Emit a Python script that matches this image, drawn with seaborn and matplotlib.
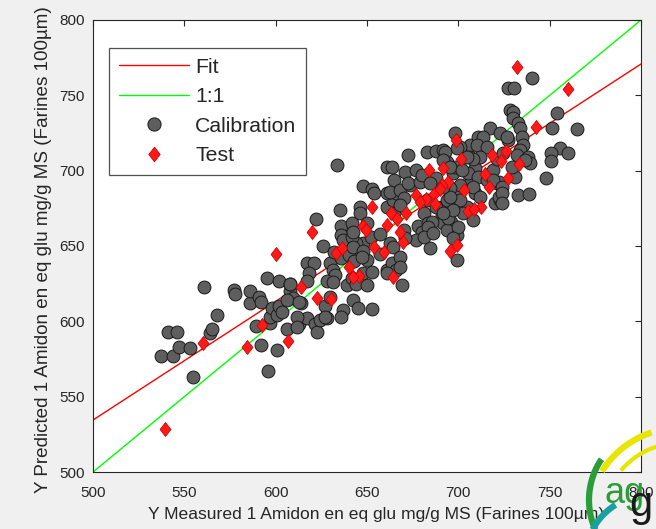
import numpy as np
import pandas as pd
import matplotlib
matplotlib.use("Agg")
import matplotlib.pyplot as plt
from matplotlib.lines import Line2D
import seaborn as sns

# ---------------- data ----------------
cal_x = [537, 544, 541, 546, 547, 553, 555, 561, 564, 565, 568, 577, 578, 586, 586, 589, 591, 592, 592, 595,
         596, 597, 597, 598, 601, 601, 602, 602, 603.5, 606, 608, 609.5, 608, 606, 613, 614, 617, 621.5, 622.5, 611.5,
         624, 628, 627, 611.5, 607.8, 613, 630, 627,
         617, 621, 618, 617, 622, 626, 630, 631.5, 632.5, 628, 631.5, 632, 633.4, 635, 636, 636, 637, 636, 640, 639,
         641.6, 644, 650, 648, 653, 650, 643, 648, 644, 652, 641.6, 641.6, 642.5, 646, 646, 650, 637, 636, 642.5, 645,
         652.5, 648, 653, 654, 657, 662.6, 661, 663.5, 666, 657, 661, 665, 664.4, 665, 666, 661, 660.7, 669, 664.4, 668,
         668, 642.5, 648, 647, 660.7,
         662.6, 668, 673.5, 670, 668, 681, 678, 680, 683.5, 677, 670, 671, 684.5, 691, 691.7, 696, 698, 693.6, 699, 694.5,
         697, 691, 699, 704.5, 709, 706.4, 699, 701, 720, 722.8, 721, 672.6, 682.6, 688, 698.2, 706.4, 711, 671, 677, 672.6,
         679, 688, 697, 663.5, 680, 693.6, 698, 706.4, 709, 705.4, 711, 715.5, 719, 722, 684.5, 695.4, 701, 691.8, 682.6, 688,
         693.6, 702.7, 708, 694.5, 700, 685.4, 683.6, 681, 697, 686.3,
         717.3, 722.8, 727.3, 713.6, 710, 715.5, 712, 708, 721, 724.6, 704.5, 699, 692.7, 691.8, 695.4, 701.8, 708, 719, 723.7, 722,
         712, 701, 695.4, 691.8, 697, 691.8, 740.5, 727.3, 730.5, 728.3, 729.8, 730, 732.8, 733.8, 753.8, 751.4, 764.7, 726.4,
         734.6, 735.6, 733.8, 732, 738.3, 739.2, 736.5, 755.6, 760.2, 751, 751, 747.8, 731, 723.7, 723.7, 732.8, 738.8, 729.2]
cal_y = [577, 577, 593, 593, 583, 582, 563, 623, 592, 595, 604, 621, 618, 612, 620, 597, 616, 613, 584, 629,
         567, 599, 603, 609, 604, 581, 627, 610, 606, 595, 620, 615.5, 625, 614, 598, 612, 602, 598, 593, 603,
         601, 602, 610, 596.4, 625, 613, 616, 603,
         639, 639, 632, 627, 668, 650, 638.5, 634, 631, 627, 626, 646, 704, 674, 663, 657, 654, 642, 644, 624,
         628.6, 625, 624, 632, 633, 641, 640, 652, 652, 656, 656, 665, 659.5, 676, 672, 665, 607.5, 603, 614, 609,
         608, 690, 688, 685, 645, 652, 634, 638.5, 634, 658, 676, 672, 680.5, 694, 685, 685, 702.6, 624, 649.5, 643,
         636, 649.5, 647, 643, 632,
         686, 687, 690.5, 682, 677, 672, 663, 659.5, 665, 654, 660.6, 655, 648.5, 670.6, 665, 666, 662, 660.6, 657, 680.5,
         676, 676, 641, 676, 685, 691.6, 687, 690.5, 678.3, 680.5, 691.6, 710.4, 712.2, 713.3, 724.8, 717, 722.6, 699, 700.4, 691.6,
         692.7, 695, 698.3, 702.6, 697, 706, 702.6, 709.3, 701.6, 698.3, 696, 694, 700.4, 692.7, 691.6, 688.3, 716, 713.7, 680.5, 676,
         680.5, 671.7, 667.3, 668.4, 662.8, 666, 662.8, 656, 655, 658.4,
         728, 724.8, 720.4, 722.5, 717, 716, 709.3, 708, 708, 711.5, 709.3, 714.8, 712.6, 707, 702.6, 700.4, 689.4, 693.8, 689.4, 682.7,
         682.7, 680.5, 682.7, 689.4, 674, 671.7, 761.3, 754.7, 754.7, 740.3, 739, 734.8, 731.4, 728, 738, 728.5, 727.5, 722.5,
         722.5, 717, 713.7, 710.4, 709.3, 705, 707, 714.8, 711.5, 711.5, 706.4, 695, 696, 685, 678.3, 684, 684.3, 702.6]

test_x = [731.9, 759.8, 742.3, 698.8, 701.5, 684, 691.8, 694.6, 690.9, 703.3, 718.4, 723.3, 726.1, 733.2, 727.3, 717, 714.6,
          712.6, 705.4, 708.5, 676.6, 682.1, 686.7, 690, 687.4, 679, 671.3, 663, 666.2, 661.1, 668.1, 669.5, 652.9, 647.7,
          649.5, 620.1, 654, 659.3, 633, 636.5, 640.3, 645.6, 642.2, 664.4, 695.4, 699, 613.7, 622.4, 630.1, 607, 600.2,
          592.3, 560.4, 584.4, 539.4]
test_y = [769, 754, 728.8, 720.4, 708, 700.4, 702, 692.7, 690.5, 687.5, 710.4, 706.4, 712.8, 704.3, 695, 689, 697.5,
          675.7, 673, 674.8, 683.9, 681.2, 684.5, 687.8, 677.9, 679, 671.7, 671.7, 667.7, 663.9, 659.5, 652.9, 675.7, 663.3,
          660.6, 659.1, 649.5, 646.2, 645.2, 648.5, 636.3, 630.1, 629.6, 629.6, 647, 650.7, 623, 615.7, 614.6, 587, 644.9,
          597.6, 585.4, 582.7, 528.7]

fit_x = [500, 800]
fit_y = [534.5, 770.8]
one_x = [500, 800]
one_y = [500, 800]

ticks = [500, 550, 600, 650, 700, 750, 800]
xlabel = "Y Measured 1 Amidon en eq glu mg/g MS (Farines 100µm)"
ylabel = "Y Predicted 1 Amidon en eq glu mg/g MS (Farines 100µm)"
legend_labels = ["Fit", "1:1", "Calibration", "Test"]

cal_df = pd.DataFrame({"x": cal_x, "y": cal_y})
test_df = pd.DataFrame({"x": test_x, "y": test_y})
fit_df = pd.DataFrame({"x": fit_x, "y": fit_y})
one_df = pd.DataFrame({"x": one_x, "y": one_y})

# ---------------- styling ----------------
sns.set_style("white")
plt.rcParams["font.family"] = ["Liberation Sans", "DejaVu Sans"]

BG = "#f0f0f0"
DARK = "#262626"
GRAY = "#5e5e5e"
RED = "#ff1a1a"

fig = plt.figure(figsize=(6.56, 5.29), dpi=100, facecolor=BG)
ax = fig.add_axes([93 / 656, 1 - 472 / 529, 548 / 656, 452 / 529])
ax.set_facecolor("white")

sns.lineplot(data=fit_df, x="x", y="y", color="#ff0000", lw=1.0, ax=ax, zorder=2)
sns.lineplot(data=one_df, x="x", y="y", color="#00ff00", lw=1.0, ax=ax, zorder=2)

diamond = [(0, 1), (0.78, 0), (0, -1), (-0.78, 0), (0, 1)]
sns.scatterplot(data=cal_df, x="x", y="y", s=86, color=GRAY, edgecolor="#1a1a1a",
                linewidth=0.7, ax=ax, zorder=3)
sns.scatterplot(data=test_df, x="x", y="y", s=100, marker=diamond, color=RED,
                edgecolor="#d40000", linewidth=0.6, ax=ax, zorder=4)

ax.set_xlim(500, 800)
ax.set_ylim(500, 800)
ax.set_xticks(ticks)
ax.set_yticks(ticks)
ax.tick_params(direction="in", length=4, width=0.8, colors=DARK, labelsize=11,
               top=True, right=True, labeltop=False, labelright=False)
ax.tick_params(axis="x", pad=10)
ax.tick_params(axis="y", pad=6)
for sp in ax.spines.values():
    sp.set_color(DARK)
    sp.set_linewidth(0.8)
ax.set_xlabel(xlabel, fontsize=12.6, color=DARK)
ax.xaxis.set_label_coords((376 - 93) / 548, -(507 - 472) / 452)
ax.set_ylabel(ylabel, fontsize=13.6, color=DARK)
ax.yaxis.set_label_coords(-(93 - 52) / 548, (472 - 250) / 452)

handles = [
    Line2D([], [], color="#ff0000", lw=1.0),
    Line2D([], [], color="#00ff00", lw=1.0),
    Line2D([], [], ls="none", marker="o", markersize=9.5, markerfacecolor=GRAY,
           markeredgecolor="#1a1a1a", markeredgewidth=0.7),
    Line2D([], [], ls="none", marker=diamond, markersize=10.5, markerfacecolor=RED,
           markeredgecolor="#d40000", markeredgewidth=0.6),
]
leg = ax.legend(handles, legend_labels, loc="upper left",
                bbox_to_anchor=((109 - 93) / 548, (472 - 48) / 452),
                borderaxespad=0, fontsize=15.3, frameon=True, fancybox=False,
                handlelength=3.3, handletextpad=0.3, labelspacing=0.5,
                borderpad=0.45)
leg.get_frame().set_edgecolor(DARK)
leg.get_frame().set_linewidth(0.9)
for t in leg.get_texts():
    t.set_color(DARK)

# ---------------- decorative logo (bottom-right corner) ----------------
lax = fig.add_axes([0, 0, 1, 1], facecolor="none")
lax.set_xlim(0, 656)
lax.set_ylim(529, 0)
lax.axis("off")

def arc(cx, cy, r, t1, t2, color, lw):
    t = np.radians(np.linspace(t1, t2, 60))
    lax.plot(cx + r * np.cos(t), cy + r * np.sin(t), color=color, lw=lw,
             solid_capstyle="butt", zorder=10)

arc(662, 500, 73, 156, 214, "#2a9d3a", 4.5)
arc(680, 520, 92, 212, 252, "#e6e600", 4.5)
arc(680, 520, 77, 220, 256, "#e6e600", 3.0)
arc(650, 560, 65, 208, 238, "#1aa0a0", 4.5)
lax.text(604, 503, "ag", fontsize=26, color="#2a9d3a", ha="left", va="baseline", zorder=11)
lax.text(629, 516, "g", fontsize=30, color="#1a1a1a", ha="left", va="baseline", zorder=12)

fig.savefig("out.png", dpi=100, facecolor=BG)
